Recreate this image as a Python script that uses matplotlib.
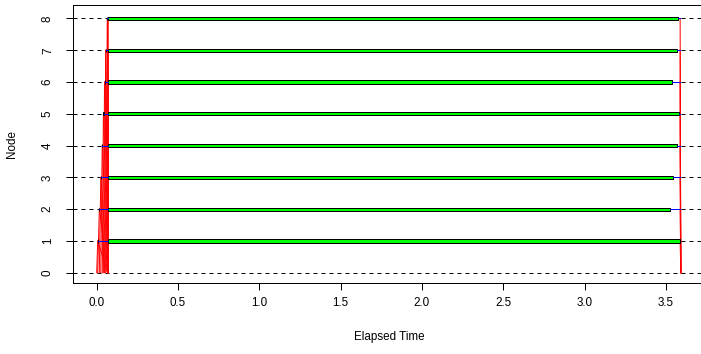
import numpy as np
import matplotlib.pyplot as plt

plt.rcParams['font.family'] = ['Liberation Sans', 'DejaVu Sans']

# cluster timing per worker node (seconds)
nodes = [1, 2, 3, 4, 5, 6, 7, 8]
# first (short) round: master sends, node runs a tiny task, sends back
send1_start = [0.000, 0.006, 0.016, 0.025, 0.034, 0.041, 0.048, 0.055]
task1_start = [0.006, 0.016, 0.025, 0.034, 0.041, 0.048, 0.055, 0.065]
task1_end = [0.007, 0.017, 0.026, 0.035, 0.042, 0.049, 0.056, 0.066]
recv1_end = [0.066, 0.066, 0.067, 0.067, 0.068, 0.068, 0.069, 0.069]
# second (main) round
send2_start = [0.066, 0.067, 0.067, 0.068, 0.068, 0.069, 0.069, 0.070]
task2_start = [0.071, 0.071, 0.071, 0.071, 0.071, 0.071, 0.071, 0.071]
task2_end = [3.587, 3.526, 3.542, 3.571, 3.579, 3.536, 3.571, 3.577]
task2_done = [3.588, 3.588, 3.588, 3.588, 3.588, 3.588, 3.588, 3.588]
recv2_end = [3.592, 3.592, 3.592, 3.592, 3.592, 3.592, 3.592, 3.592]

x_ticks = [0.0, 0.5, 1.0, 1.5, 2.0, 2.5, 3.0, 3.5]
y_ticks = [0, 1, 2, 3, 4, 5, 6, 7, 8]

W, H = 701, 354
fig = plt.figure(figsize=(W / 100, H / 100), dpi=100)
left, right, top, bottom = 73.3, 705.5, 5.0, 283.0
ax = fig.add_axes([left / W, (H - bottom) / H, (right - left) / W, (bottom - top) / H])

ax.set_xlim(-0.144, 3.744)
ax.set_ylim(-0.324, 8.424)

lw = 0.72  # one pixel
w2 = 0.05
fs = 8.4

# dashed reference line for each node
for y in y_ticks:
    ax.axhline(y, color='black', lw=lw, dashes=(4, 4), zorder=1)

for k, i in enumerate(nodes):
    # master -> node sends
    ax.plot([send1_start[k], task1_start[k]], [0, i], color='red', lw=lw, zorder=2)
    ax.plot([send2_start[k], task2_start[k]], [0, i], color='red', lw=lw, zorder=2)
    # compute blocks
    for a, b in [(task1_start[k], task1_end[k]), (task2_start[k], task2_end[k])]:
        ax.add_patch(plt.Rectangle((a, i - w2), b - a, 2 * w2, facecolor='#00ff00',
                                   edgecolor='black', lw=lw, zorder=3))
    # idle time on the node
    ax.plot([task1_end[k], task2_start[k]], [i, i], color='blue', lw=lw, zorder=3)
    ax.plot([task2_end[k], task2_done[k]], [i, i], color='blue', lw=lw, zorder=3)
    # node -> master returns
    ax.plot([task1_end[k], recv1_end[k]], [i, 0], color='red', lw=lw, zorder=2)
    ax.plot([task2_done[k], recv2_end[k]], [i, 0], color='red', lw=lw, zorder=2)

ax.set_xticks(x_ticks)
ax.set_xticklabels([f'{v:.1f}' for v in x_ticks])
ax.set_yticks(y_ticks)
ax.set_yticklabels([str(v) for v in y_ticks], rotation=90, va='center')

for s in ax.spines.values():
    s.set_linewidth(lw)
ax.tick_params(direction='out', length=5.0, width=lw, labelsize=fs)
ax.tick_params(axis='x', pad=5)
ax.tick_params(axis='y', pad=9)

fig.text((left + right) / 2 / W, 1 - 337 / H, 'Elapsed Time', fontsize=fs,
         ha='center', va='center')
fig.text(12 / W, 1 - (top + bottom) / 2 / H, 'Node', fontsize=fs, rotation=90,
         ha='center', va='center')

fig.savefig('out.png', dpi=100)
